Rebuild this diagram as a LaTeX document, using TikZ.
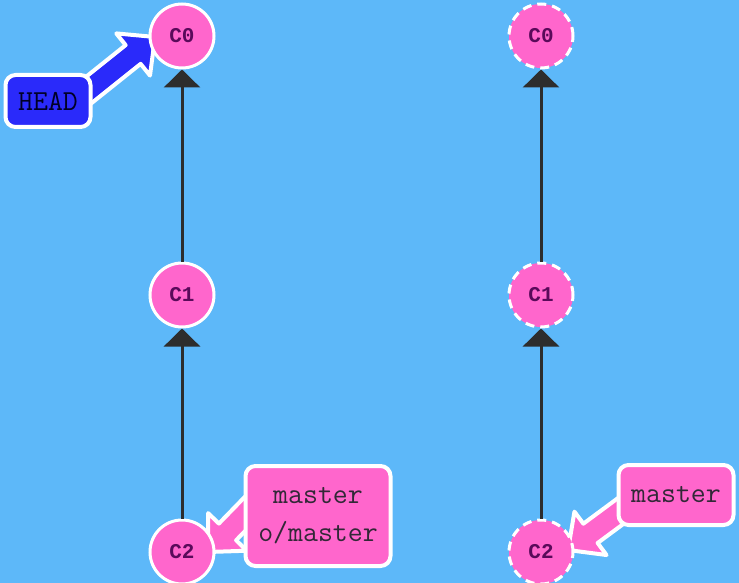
\documentclass[tikz,border=0pt]{standalone}
\usepackage{fontspec}
\newfontfamily\circfont{Liberation Mono}
\usetikzlibrary{calc,arrows.meta}
\pgfdeclarelayer{bottom}
\pgfdeclarelayer{background}
\pgfsetlayers{bottom,background,main}
\definecolor{bg}{RGB}{93,184,249}
\definecolor{pinkc}{RGB}{255,102,204}
\definecolor{headblue}{RGB}{42,42,250}
\definecolor{ctext}{RGB}{90,10,90}
\definecolor{linec}{RGB}{45,45,45}
\definecolor{btext}{RGB}{50,40,55}
\newcommand\fatarrow[3]{%
  \coordinate (fa-p) at ($(#2)!28pt!(#1)$);
  \draw[line width=4pt, draw=white, fill=#3, line join=round]
    ($(#1)!12pt!90:(#2)$) -- ($(fa-p)!12pt!-90:(#1)$) -- ($(fa-p)!27pt!-90:(#1)$)
    -- (#2) -- ($(fa-p)!27pt!90:(#1)$) -- ($(fa-p)!12pt!90:(#1)$)
    -- ($(#1)!12pt!-90:(#2)$) -- cycle;
}
\tikzset{
  commit/.style={circle, minimum size=64pt, inner sep=0pt, fill=pinkc, draw=white,
    line width=3pt, text=ctext, font=\fontsize{21}{24}\selectfont\circfont\bfseries},
  ocommit/.style={commit, dash pattern=on 9pt off 6pt},
  parent/.style={draw=linec, line width=3pt, -{Triangle[width=36pt,length=18pt]}},
  refbox/.style={rounded corners=10pt, draw=white, line width=4pt, fill=pinkc,
    text=btext, font=\fontsize{29}{38}\selectfont\ttfamily, align=center, inner sep=0pt},
  headbox/.style={refbox, fill=headblue, text=black!85!blue}
}
\begin{document}
\begin{tikzpicture}[x=1pt,y=-1pt]
\begin{pgfonlayer}{bottom}
\fill[bg] (0,0) rectangle (739,583);
\end{pgfonlayer}
\useasboundingbox (0,0) rectangle (739,583);
% left repository
\node[commit] (l0) at (182,36) {C0};
\node[commit] (l1) at (182,295) {C1};
\node[commit] (l2) at (182,552) {C2};
\draw[parent] (l1) -- (l0);
\draw[parent] (l2) -- (l1);
% right repository
\node[ocommit] (r0) at (541,36) {C0};
\node[ocommit] (r1) at (541,295) {C1};
\node[ocommit] (r2) at (541,552) {C2};
\draw[parent] (r1) -- (r0);
\draw[parent] (r2) -- (r1);
% refs
\node[headbox, minimum width=85pt, minimum height=52pt] (head) at (48,101) {HEAD};
\node[refbox, minimum width=145pt, minimum height=100pt] (lm) at (318,516) {master\\o/master};
\node[refbox, minimum width=115pt, minimum height=60pt] (rm) at (676,495) {master};
\begin{pgfonlayer}{background}
\coordinate (hs) at ($(head.center)+(22,4)$);
\coordinate (he) at ($(l0.center)+(-27,1)$);
\fatarrow{hs}{he}{headblue}
\coordinate (ls) at ($(lm.west)+(15,-16)$);
\coordinate (le) at ($(l2.center)+(26,0)$);
\fatarrow{ls}{le}{pinkc}
\coordinate (rs) at ($(rm.west)+(15,8)$);
\coordinate (re) at ($(r2.center)+(27,-2)$);
\fatarrow{rs}{re}{pinkc}
\end{pgfonlayer}
\end{tikzpicture}
\end{document}
